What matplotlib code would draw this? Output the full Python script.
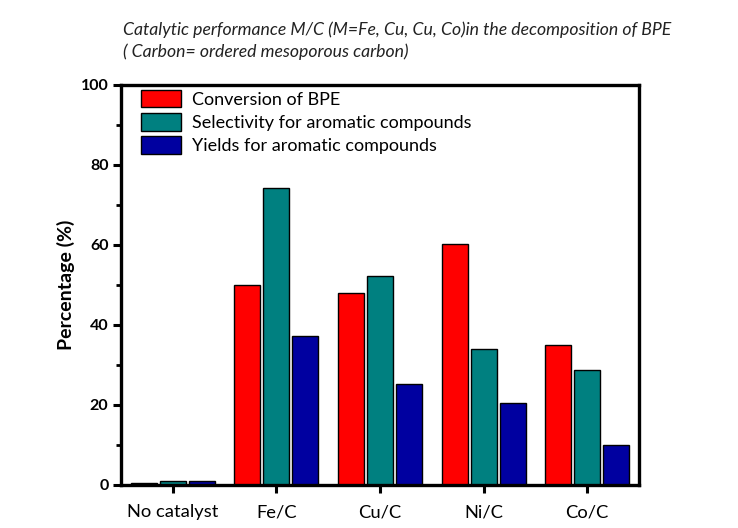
import matplotlib
matplotlib.use("Agg")
import matplotlib.pyplot as plt
import numpy as np
from matplotlib.ticker import MultipleLocator

plt.rcParams['font.family'] = ['Lato', 'DejaVu Sans']

categories = ["No catalyst", "Fe/C", "Cu/C", "Ni/C", "Co/C"]
conversion = [0.6, 49.9, 48.0, 60.3, 35.0]
selectivity = [0.9, 74.2, 52.3, 34.0, 28.7]
yields = [0.9, 37.2, 25.3, 20.5, 10.0]
series_labels = ["Conversion of BPE", "Selectivity for aromatic compounds",
                 "Yields for aromatic compounds"]
colors = ["#FF0000", "#008080", "#0000A0"]

W, H = 738, 528
fig = plt.figure(figsize=(W / 100, H / 100), dpi=100)
ax = fig.add_axes([121 / W, 1 - 485 / H, (639 - 121) / W, (485 - 85) / H])

x = np.arange(len(categories))
pitch = 0.28
width = 0.25
for i, (vals, c, lab) in enumerate(zip([conversion, selectivity, yields], colors, series_labels)):
    ax.bar(x + (i - 1) * pitch, vals, width, color=c, edgecolor="black",
           linewidth=1.0, label=lab, zorder=2)

ax.set_xlim(-0.5, 4.5)
ax.set_ylim(0, 100)
ax.set_xticks(x)
ax.set_xticklabels(categories, fontsize=13.2)
ax.yaxis.set_major_locator(MultipleLocator(20))
ax.yaxis.set_minor_locator(MultipleLocator(10))
for lab in ax.get_yticklabels():
    lab.set_fontweight("bold")
    lab.set_fontsize(11.5)
ax.tick_params(axis="y", which="major", length=6, width=2.2, direction="out", pad=3)
ax.tick_params(axis="y", which="minor", length=3.5, width=2.0, direction="out")
ax.tick_params(axis="x", which="major", length=6, width=2.2, direction="out", pad=8)
for s in ax.spines.values():
    s.set_linewidth(2.4)

ax.set_ylabel("Percentage (%)", fontsize=14, fontweight="bold", labelpad=4)

fs = 13
fpx = fs * 100 / 72
ax.legend(loc="upper left", bbox_to_anchor=(141 / W, 1 - 90 / H),
          bbox_transform=fig.transFigure, frameon=False, fontsize=fs,
          borderpad=0, borderaxespad=0, handlelength=40 / fpx,
          handleheight=20 / fpx, labelspacing=0.29, handletextpad=0.6)

fig.text(123 / W, 1 - 30 / H,
         "Catalytic performance M/C (M=Fe, Cu, Cu, Co)in the decomposition of BPE",
         fontsize=12.7, style="italic", va="center", ha="left", color="#222222")
fig.text(123 / W, 1 - 52 / H, "( Carbon= ordered mesoporous carbon)",
         fontsize=12.7, style="italic", va="center", ha="left", color="#222222")

fig.savefig("out.png", dpi=100)
